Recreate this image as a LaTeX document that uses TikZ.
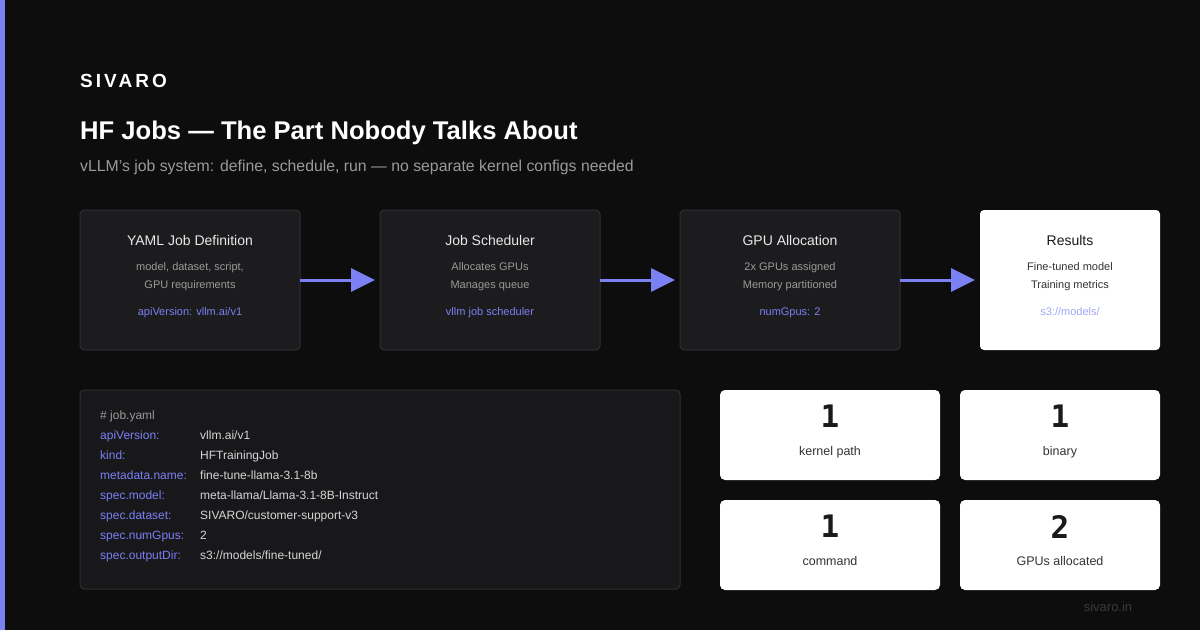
\documentclass[tikz,border=0pt]{standalone}
\usepackage{fontspec}
\setmainfont{Liberation Sans}
\newfontfamily\numfont{DejaVu Sans Mono}
\usetikzlibrary{positioning,calc,arrows.meta}

\definecolor{bg}{HTML}{0D0D0D}
\definecolor{accent}{HTML}{7B80F2}
\definecolor{lightaccent}{HTML}{A3A6F7}
\definecolor{cardfill}{HTML}{1C1C1F}
\definecolor{cardline}{HTML}{2F2F33}
\definecolor{codefill}{HTML}{18181B}
\definecolor{muted}{HTML}{9A9A9A}
\definecolor{softtext}{HTML}{E8E8E8}
\definecolor{codetext}{HTML}{D6D6D6}
\definecolor{inktext}{HTML}{1A1A1A}
\definecolor{inkmuted}{HTML}{333333}
\definecolor{footer}{HTML}{3A3A3A}

\newcommand{\px}[1]{\fontsize{#1}{#1}\selectfont}

\tikzset{
  stage/.style={draw=cardline, fill=cardfill, line width=1pt, rounded corners=4pt,
    minimum width=220pt, minimum height=140pt, inner sep=0pt, outer sep=0pt},
  result/.style={stage, draw=none, fill=white, minimum width=180pt},
  stat/.style={fill=white, rounded corners=5pt, minimum height=90pt, inner sep=0pt, outer sep=0pt, anchor=north west},
  flow/.style={accent, line width=3pt, -{Triangle[length=24pt,width=23pt]}, shorten >=5pt},
  stagetitle/.style={font=\px{14}, text=softtext, inner sep=0pt, text height=10pt, text depth=3pt},
  stageline/.style={font=\px{11}, text=muted, inner sep=0pt, text height=8pt, text depth=2.5pt},
  stagetag/.style={font=\px{11}, text=accent, inner sep=0pt, text height=8pt, text depth=2.5pt},
  codekey/.style={font=\px{12}, text=accent, anchor=west, inner sep=0pt, text height=9pt, text depth=3pt},
  codeval/.style={font=\px{12}, text=codetext, anchor=west, inner sep=0pt, text height=9pt, text depth=3pt},
  statnum/.style={font=\numfont\bfseries\px{31}, text=inktext, inner sep=0pt},
  statlabel/.style={font=\px{12.5}, text=inkmuted, inner sep=0pt, text height=9pt, text depth=3pt}
}

\begin{document}
\begin{tikzpicture}[x=1pt, y=-1pt]
    % Canvas
    \fill[bg] (0,0) rectangle (1200,630);
    \useasboundingbox (0,0) rectangle (1200,630);
    \fill[accent] (0,0) rectangle (5,630);

    % Header
    \node[anchor=base west, inner sep=0pt, text=white, font=\bfseries\px{19}\addfontfeature{LetterSpace=16}] (brand) at (80,87) {SIVARO};
    \node[anchor=base west, inner sep=0pt, text=white, font=\bfseries\px{25.6}] (title) at (80,139) {HF Jobs — The Part Nobody Talks About};
    \node[anchor=base west, inner sep=0pt, text=muted, font=\px{15.8}] (subtitle) at (80,171) {vLLM's job system: define, schedule, run — no separate kernel configs needed};

    % Pipeline
    \node[stage, anchor=north west] (yaml) at (80,210) {};
    \node[stage, right=80pt of yaml] (sched) {};
    \node[stage, right=80pt of sched] (gpu) {};
    \node[result, right=80pt of gpu] (results) {};

    \node[stagetitle] (yamltitle) at ($(yaml.north)+(0,32)$) {YAML Job Definition};
    \node[stageline] (yamlone) at ($(yaml.north)+(0,58)$) {model, dataset, script,};
    \node[stageline] (yamltwo) at ($(yaml.north)+(0,76)$) {GPU requirements};
    \node[stagetag] (yamltag) at ($(yaml.north)+(0,103)$) {apiVersion: vllm.ai/v1};

    \node[stagetitle] (schedtitle) at ($(sched.north)+(0,32)$) {Job Scheduler};
    \node[stageline] (schedone) at ($(sched.north)+(0,58)$) {Allocates GPUs};
    \node[stageline] (schedtwo) at ($(sched.north)+(0,76)$) {Manages queue};
    \node[stagetag] (schedtag) at ($(sched.north)+(0,103)$) {vllm job scheduler};

    \node[stagetitle] (gputitle) at ($(gpu.north)+(0,32)$) {GPU Allocation};
    \node[stageline] (gpuone) at ($(gpu.north)+(0,58)$) {2x GPUs assigned};
    \node[stageline] (gputwo) at ($(gpu.north)+(0,76)$) {Memory partitioned};
    \node[stagetag] (gputag) at ($(gpu.north)+(0,103)$) {numGpus: 2};

    \node[stagetitle, text=inktext] (restitle) at ($(results.north)+(0,32)$) {Results};
    \node[stageline, text=inkmuted] (resone) at ($(results.north)+(0,58)$) {Fine-tuned model};
    \node[stageline, text=inkmuted] (restwo) at ($(results.north)+(0,76)$) {Training metrics};
    \node[stagetag, text=lightaccent] (restag) at ($(results.north)+(0,103)$) {s3://models/};

    \draw[flow] (yaml.east) -- (sched.west);
    \draw[flow] (sched.east) -- (gpu.west);
    \draw[flow] (gpu.east) -- (results.west);

    % Code block
    \draw[draw=cardline, fill=codefill, line width=1pt, rounded corners=4pt] (80,390) rectangle (680,589);
    \node[codeval, text=muted] (comment) at (100,416) {\# job.yaml};
    \foreach \key/\val [count=\i] in {{apiVersion:}/{vllm.ai/v1}, {kind:}/{HFTrainingJob},
        {metadata.name:}/{fine-tune-llama-3.1-8b}, {spec.model:}/{meta-llama/Llama-3.1-8B-Instruct},
        {spec.dataset:}/{SIVARO/customer-support-v3}, {spec.numGpus:}/{2},
        {spec.outputDir:}/{s3://models/fine-tuned/}} {
      \node[codekey] (key\i) at (100,416+20*\i) {\key};
      \node[codeval] (val\i) at (200,416+20*\i) {\val};
    }

    % Stats
    \node[stat, minimum width=220pt] (kernel) at (720,390) {};
    \node[stat, minimum width=200pt] (binary) at (960,390) {};
    \node[stat, minimum width=220pt] (command) at (720,500) {};
    \node[stat, minimum width=200pt] (gpus) at (960,500) {};

    \node[statnum] (kernelnum) at ($(kernel.north)+(0,26.5)$) {1};
    \node[statlabel] (kernellabel) at ($(kernel.north)+(0,62)$) {kernel path};
    \node[statnum] (binarynum) at ($(binary.north)+(0,26.5)$) {1};
    \node[statlabel] (binarylabel) at ($(binary.north)+(0,62)$) {binary};
    \node[statnum] (commandnum) at ($(command.north)+(0,26.5)$) {1};
    \node[statlabel] (commandlabel) at ($(command.north)+(0,62)$) {command};
    \node[statnum] (gpusnum) at ($(gpus.north)+(0,26.5)$) {2};
    \node[statlabel] (gpuslabel) at ($(gpus.north)+(0,62)$) {GPUs allocated};

    % Footer
    \node[text=footer, font=\px{13}, inner sep=0pt] (site) at (1108,607) {sivaro.in};
\end{tikzpicture}
\end{document}
